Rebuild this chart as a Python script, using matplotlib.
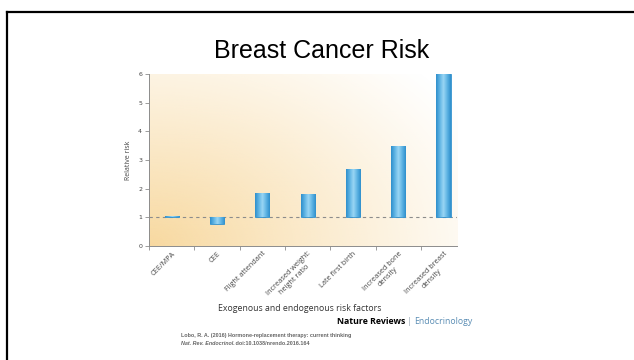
"""
Breast Cancer Risk — relative risk by exogenous / endogenous factor
(slide reproduction of Lobo 2016, Nat. Rev. Endocrinol.)
"""

import numpy as np
import matplotlib
matplotlib.use("Agg")
import matplotlib.pyplot as plt
from matplotlib.lines import Line2D
from matplotlib.colors import LinearSegmentedColormap

# ── data ─────────────────────────────────────────────────────────
categories = [
    "CEE/MPA",
    "CEE",
    "Flight attendant",
    "Increased weight:\nheight ratio",
    "Late first birth",
    "Increased bone\ndensity",
    "Increased breast\ndensity",
]
relative_risk = [1.05, 0.75, 1.85, 1.8, 2.7, 3.5, 6.0]
baseline = 1.0
y_ticks = [0, 1, 2, 3, 4, 5, 6]

# ── style ────────────────────────────────────────────────────────
COL = dict(
    grey   = "#8c8c8c",
    text   = "#444444",
    bar_e  = "#2f8fcc",
    bar_c  = "#9ad6f4",
    warm   = "#f8d9a0",
    blue   = "#5a8db4",
)

fig = plt.figure(figsize=(6.34, 3.6), dpi=100, facecolor="white")
ax = fig.add_axes([0.235, 0.317, 0.486, 0.477])

# warm radial background inside the plot area
gx, gy = np.meshgrid(np.linspace(0, 1, 300), np.linspace(0, 1, 200))
dist = np.sqrt((gx * 1.0) ** 2 + (gy * 0.8) ** 2)
alpha = np.clip(1 - dist / 1.2, 0, 1) ** 1.1
bg = np.zeros((200, 300, 4))
bg[..., :3] = matplotlib.colors.to_rgb(COL["warm"])
bg[..., 3] = alpha
ax.imshow(bg, extent=[0, 1, 0, 1], transform=ax.transAxes,
          origin="lower", aspect="auto", zorder=0)

x = np.arange(len(categories))
heights = [v - baseline for v in relative_risk]
bars = ax.bar(x, heights, bottom=baseline, width=0.31,
              color=COL["bar_c"], edgecolor=COL["bar_e"], linewidth=0.6, zorder=3)

# cylinder-like shading clipped to each bar
cyl = LinearSegmentedColormap.from_list(
    "cyl", [COL["bar_e"], "#5fb4e4", COL["bar_c"], "#5fb4e4", COL["bar_e"]])
shade = np.linspace(0, 1, 64)[None, :]
for b in bars:
    x0, y0 = b.get_x(), b.get_y()
    im = ax.imshow(shade, cmap=cyl, aspect="auto", zorder=3.5,
                   interpolation="bilinear",
                   extent=[x0, x0 + b.get_width(), y0, y0 + b.get_height()])
    im.set_clip_path(b)

ax.axhline(baseline, color=COL["grey"], lw=0.8, ls=(0, (3, 3)), zorder=1)

ax.set_xlim(-0.5, 6.3)
ax.set_ylim(0, 6)
ax.set_yticks(y_ticks)
ax.set_xticks(x)
ax.set_xticks(np.arange(-0.5, 6, 1.0), minor=True)
ax.tick_params(axis="x", which="major", length=0, pad=3)
ax.tick_params(axis="x", which="minor", length=3, color=COL["grey"], width=0.6)
ax.tick_params(axis="y", length=3, color=COL["grey"], width=0.6,
               labelsize=4.5, labelcolor=COL["text"], pad=2)
ax.set_xticklabels(categories, rotation=45, ha="right", va="top",
                   rotation_mode="anchor", fontsize=5.2, color=COL["text"],
                   multialignment="center", family="Open Sans")
for s in ("top", "right"):
    ax.spines[s].set_visible(False)
for s in ("left", "bottom"):
    ax.spines[s].set_color(COL["grey"])
    ax.spines[s].set_linewidth(0.7)

ax.set_ylabel("Relative risk", fontsize=5, color=COL["text"], labelpad=4,
              family="Open Sans")

# ── slide texts ──────────────────────────────────────────────────
fig.text(0.508, 0.858, "Breast Cancer Risk", ha="center", va="center",
         fontsize=18, family="Liberation Sans", color="black")
fig.text(0.473, 0.142, "Exogenous and endogenous risk factors", ha="center",
         va="center", fontsize=6.3, family="Open Sans", color="#333333")

t1 = fig.text(0.531, 0.106, "Nature Reviews ", ha="left", va="center",
              fontsize=6.3, weight="bold", family="Open Sans", color="black")
fig.canvas.draw()
r = fig.canvas.get_renderer()
bb = t1.get_window_extent(r)
t2 = fig.text(bb.x1 / 634, 0.106, "| ", ha="left", va="center",
              fontsize=6.3, family="Open Sans", color="#9aa8b5")
bb2 = t2.get_window_extent(r)
fig.text(bb2.x1 / 634, 0.106, "Endocrinology", ha="left", va="center",
         fontsize=6.3, family="Open Sans", color=COL["blue"])

fig.text(0.285, 0.067, "Lobo, R. A. (2016) Hormone-replacement therapy: current thinking",
         ha="left", va="center", fontsize=3.9, family="Liberation Sans",
         weight="bold", color="#666666")
t3 = fig.text(0.285, 0.045, "Nat. Rev. Endocrinol.", ha="left", va="center",
              fontsize=3.9, family="Liberation Sans", style="italic",
              weight="bold", color="#666666")
bb3 = t3.get_window_extent(r)
fig.text(bb3.x1 / 634, 0.045, " doi:10.1038/nrendo.2016.164", ha="left",
         va="center", fontsize=3.9, family="Liberation Sans", weight="bold",
         color="#666666")

# slide frame (top and left edges)
fig.add_artist(Line2D([0.0118, 1], [0.968, 0.968], color="black", lw=1.6,
                      transform=fig.transFigure))
fig.add_artist(Line2D([0.0118, 0.0118], [0, 0.968], color="black", lw=1.6,
                      transform=fig.transFigure))

fig.savefig("out.png", dpi=100, facecolor="white")
